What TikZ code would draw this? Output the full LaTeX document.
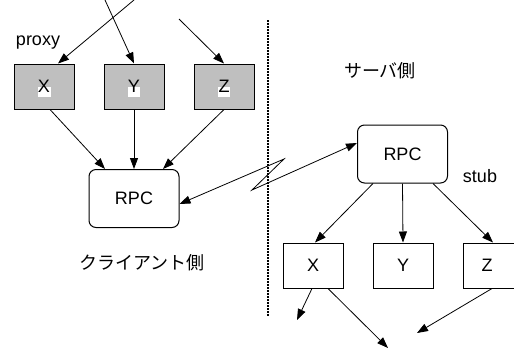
\documentclass[tikz,border=0pt]{standalone}
\usepackage{fontspec}
\setmainfont{Liberation Sans}
\newfontfamily\jpfont{Noto Sans CJK JP}
\usetikzlibrary{arrows.meta}
\begin{document}
\begin{tikzpicture}[x=1pt,y=-1pt,
  font=\fontsize{18}{20}\selectfont,
  gbox/.style={draw,line width=1pt,fill=gray!50,minimum width=60pt,minimum height=45pt,inner sep=0pt},
  wbox/.style={draw,line width=1pt,fill=white,minimum width=60pt,minimum height=45pt,inner sep=0pt},
  rpcbox/.style={draw,line width=1pt,rounded corners=7pt,minimum width=90pt,minimum height=58pt,inner sep=0pt},
  arr/.style={line width=0.8pt,-{Triangle[length=11pt,width=8pt]}},
  darr/.style={line width=0.8pt,{Triangle[length=11pt,width=8pt]}-{Triangle[length=11pt,width=8pt]}},
  patch/.style={fill=white},
  lbl/.style={inner sep=0pt}]
\useasboundingbox (0,0) rectangle (514,349);
% proxy boxes
\node[gbox] (Xp) at (44,86.5) {};
\node[gbox] (Yp) at (134,86.5) {};
\node[gbox] (Zp) at (224,86.5) {};
\fill[patch] ([shift={(-6.5,0.5)}]Xp.center) rectangle ++(13,10);
\fill[patch] ([shift={(-6,0.5)}]Yp.center) rectangle ++(12,10);
\fill[patch] ([shift={(-6,0.5)}]Zp.center) rectangle ++(12,10);
\node[lbl] (Xt) at (Xp.center) {X};
\node[lbl] (Yt) at (Yp.center) {Y};
\node[lbl] (Zt) at (Zp.center) {Z};
% RPC boxes
\node[rpcbox] (L) at (134,198.5) {RPC};
\node[rpcbox] (R) at (402.5,154) {RPC};
% stub boxes
\node[wbox] (Xr) at (313,265.5) {X};
\node[wbox] (Yr) at (403,265.5) {Y};
\node[wbox] (Zr) at (493,265.5) {\hspace*{-12pt}Z};
% labels
\node[lbl] (proxy) at (38,43) {proxy};
\node[lbl] (stub) at (480,176) {stub};
\node[lbl] (srv) at (380,71) {\jpfont サーバ側};
\node[lbl] (cli) at (142,263) {\jpfont クライアント側};
% free ends
\coordinate (t1) at (134,0);
\coordinate (t2) at (105,0);
\coordinate (t3) at (179,19);
\coordinate (z1) at (284,159);
\coordinate (z2) at (252,190);
\coordinate (b1) at (297,320);
\coordinate (b2) at (388,348);
\coordinate (b3) at (417,333);
\coordinate (d1) at (268,20);
\coordinate (d2) at (268,316);
% dotted separator
\draw[line width=2pt,dash pattern=on 1.6pt off 1.4pt] (d1) -- (d2);
% incoming arrows
\draw[arr] (t1) -- ([xshift=14pt]Xp.north);
\draw[arr] (t2) -- (Yp.north);
\draw[arr] (t3) -- (Zp.north);
% proxy to RPC
\draw[arr] ([xshift=6pt]Xp.south) -- ([xshift=-29pt]L.north);
\draw[arr] (Yp.south) -- (L.north);
\draw[arr] (Zp.south) -- ([xshift=29pt]L.north);
% zigzag
\draw[darr] ([yshift=-5.5pt]L.east) -- (z1) -- (z2) -- ([yshift=11pt]R.west);
% RPC to stubs
\draw[arr] ([xshift=-29.5pt]R.south) -- ([xshift=2pt]Xr.north);
\draw[arr] (R.south) -- (Yr.north);
\draw[arr] ([xshift=30.5pt]R.south) -- (Zr.north);
% outgoing
\draw[arr] ([xshift=-1pt]Xr.south) -- (b1);
\draw[arr] ([xshift=15pt]Xr.south) -- (b2);
\draw[arr] ([xshift=-1pt]Zr.south) -- (b3);
\end{tikzpicture}
\end{document}
